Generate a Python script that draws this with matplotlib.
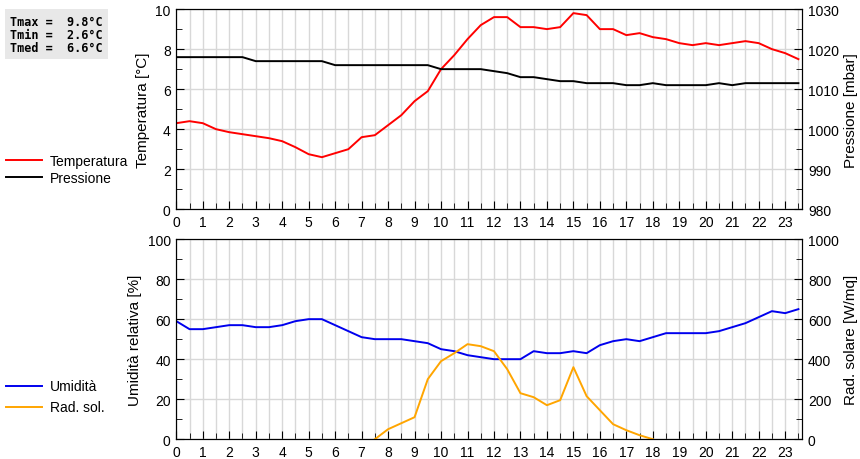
import numpy as np
import matplotlib
matplotlib.use("Agg")
import matplotlib.pyplot as plt
from matplotlib.ticker import MultipleLocator

# ── data (every half hour) ────────────────
hours = np.arange(0, 24, 0.5)

temperatura = [4.3, 4.4, 4.3, 4.0, 3.85, 3.75, 3.65, 3.55, 3.4, 3.1, 2.75, 2.6,
               2.8, 3.0, 3.6, 3.7, 4.2, 4.7, 5.4, 5.9, 7.0, 7.7, 8.5, 9.2,
               9.6, 9.6, 9.1, 9.1, 9.0, 9.1, 9.8, 9.7, 9.0, 9.0, 8.7, 8.8,
               8.6, 8.5, 8.3, 8.2, 8.3, 8.2, 8.3, 8.4, 8.3, 8.0, 7.8, 7.5]

pressione = [1018, 1018, 1018, 1018, 1018, 1018, 1017, 1017, 1017, 1017, 1017, 1017,
             1016, 1016, 1016, 1016, 1016, 1016, 1016, 1016, 1015, 1015, 1015, 1015,
             1014.5, 1014, 1013, 1013, 1012.5, 1012, 1012, 1011.5, 1011.5, 1011.5, 1011, 1011,
             1011.5, 1011, 1011, 1011, 1011, 1011.5, 1011, 1011.5, 1011.5, 1011.5, 1011.5, 1011.5]

umidita = [59, 55, 55, 56, 57, 57, 56, 56, 57, 59, 60, 60,
           57, 54, 51, 50, 50, 50, 49, 48, 45, 44, 42, 41,
           40, 40, 40, 44, 43, 43, 44, 43, 47, 49, 50, 49,
           51, 53, 53, 53, 53, 54, 56, 58, 61, 64, 63, 65]

nan = np.nan
rad_sol = [nan] * 15 + [0, 50, 80, 110, 300, 390, 430, 475, 465,
                        440, 350, 230, 210, 170, 195, 360, 215, 145, 75, 45, 20,
                        0] + [nan] * 11

stats_text = "Tmax =  9.8°C\nTmin =  2.6°C\nTmed =  6.6°C"


def style_axes(ax, ax2, ymaj, ymin_, y2maj, y2min):
    ax.set_xlim(0, 23.65)
    ax.xaxis.set_major_locator(MultipleLocator(1))
    ax.xaxis.set_minor_locator(MultipleLocator(0.5))
    ax.yaxis.set_major_locator(MultipleLocator(ymaj))
    ax.yaxis.set_minor_locator(MultipleLocator(ymin_))
    ax2.yaxis.set_major_locator(MultipleLocator(y2maj))
    ax2.yaxis.set_minor_locator(MultipleLocator(y2min))
    ax.grid(which="both", axis="x", color="#d8d8d8", lw=1)
    ax.grid(which="major", axis="y", color="#d8d8d8", lw=1)
    ax.set_axisbelow(True)
    for a in (ax, ax2):
        a.tick_params(which="both", direction="in", labelsize=10, pad=4)
        a.tick_params(which="major", length=6)
        a.tick_params(which="minor", length=4)


fig = plt.figure(figsize=(8.6, 4.6), dpi=100)
plt.rcParams["font.family"] = "Liberation Sans"

# ── top: temperature / pressure ───────────
ax1 = fig.add_axes([0.205, 0.543, 0.728, 0.435])
ax1b = ax1.twinx()
ax1.plot(hours, temperatura, color="#ff0000", lw=1.4, label="Temperatura")
ax1b.plot(hours, pressione, color="#000000", lw=1.4, label="Pressione")
ax1.set_ylim(0, 10)
ax1b.set_ylim(980, 1030)
style_axes(ax1, ax1b, 2, 1, 10, 5)
ax1.set_ylabel("Temperatura [°C]", fontsize=11)
ax1b.set_ylabel("Pressione [mbar]", fontsize=11)

# ── bottom: humidity / radiation ──────────
ax2 = fig.add_axes([0.205, 0.043, 0.728, 0.435])
ax2b = ax2.twinx()
ax2.plot(hours, umidita, color="#0000ee", lw=1.4, label="Umidità")
ax2b.plot(hours, rad_sol, color="#ffa500", lw=1.4, label="Rad. sol.")
ax2.set_ylim(0, 100)
ax2b.set_ylim(0, 1000)
style_axes(ax2, ax2b, 20, 10, 200, 100)
ax2.set_ylabel("Umidità relativa [%]", fontsize=11)
ax2b.set_ylabel("Rad. solare [W/mq]", fontsize=11)

# ── legends on the left ───────────────────
h1 = ax1.get_lines() + ax1b.get_lines()
fig.legend(h1, [l.get_label() for l in h1], loc="upper left",
           bbox_to_anchor=(0.0, 0.675), frameon=False, fontsize=10,
           handlelength=2.6, handletextpad=0.6, labelspacing=0.2, borderaxespad=0)
h2 = ax2.get_lines() + ax2b.get_lines()
fig.legend(h2, [l.get_label() for l in h2], loc="upper left",
           bbox_to_anchor=(0.0, 0.185), frameon=False, fontsize=10,
           handlelength=2.6, handletextpad=0.6, labelspacing=0.5, borderaxespad=0)

fig.text(0.012, 0.966, stats_text, family="DejaVu Sans Mono", weight="bold",
         fontsize=8.5, va="top", ha="left", linespacing=1.0,
         bbox=dict(facecolor="#e8e8e8", edgecolor="none", pad=4))

fig.savefig("out.png", dpi=100)
